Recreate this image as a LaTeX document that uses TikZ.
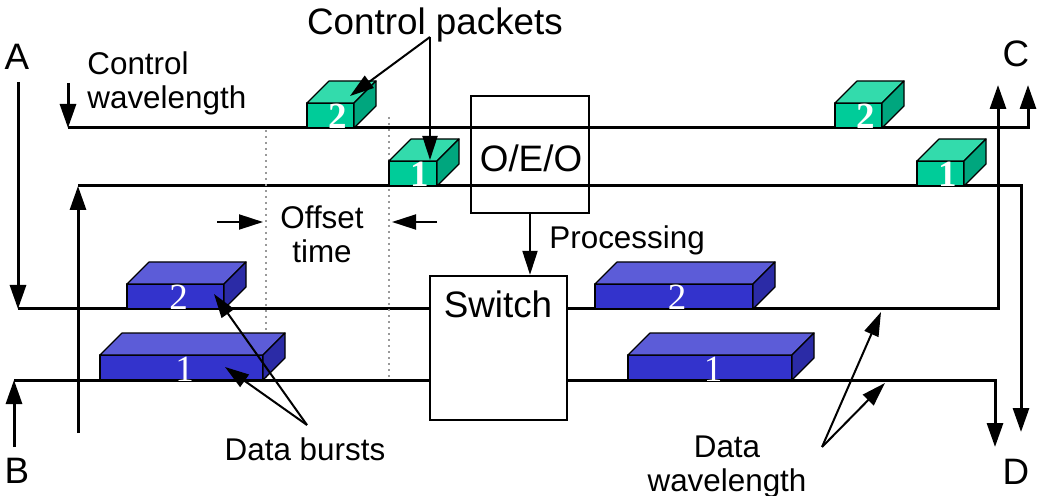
\documentclass[tikz,border=0pt]{standalone}
\usepackage{fontspec}
\setmainfont{Liberation Sans}
\newfontfamily\numfont{Liberation Serif}
\usetikzlibrary{arrows.meta}
\definecolor{grfront}{RGB}{0,204,153}
\definecolor{grtop}{RGB}{51,219,172}
\definecolor{grside}{RGB}{0,166,126}
\definecolor{blfront}{RGB}{51,51,204}
\definecolor{bltop}{RGB}{92,92,216}
\definecolor{blside}{RGB}{43,43,166}

\begin{document}
\begin{tikzpicture}[x=0.5pt, y=-0.5pt,
    big/.style={font=\fontsize{18.4}{21}\selectfont, inner sep=0pt},
    txt/.style={font=\fontsize{15.7}{17}\selectfont, inner sep=0pt, align=center},
    wave/.style={line width=1.5pt, line join=miter},
    wavearr/.style={wave, -{Triangle[length=12pt, width=8pt]}},
    arr/.style={line width=1pt, -{Triangle[length=12pt, width=7.5pt]}},
    guide/.style={draw=gray!80, line width=1pt, dotted},
    unit/.style={draw=black, line width=1.2pt},
    face/.style={draw=black, line width=0.6pt, line join=round},
    digit/.style={text=white, font=\numfont\fontsize{18.5}{18.5}\selectfont,
                  inner sep=0pt, anchor=base}
]
    \useasboundingbox (0,0) rectangle (1037,496);

    \coordinate (ain) at (18,82);
    \coordinate (a1) at (18,309);
    \coordinate (c1) at (998,309);
    \coordinate (cout) at (998,85);
    \coordinate (bin) at (14,447);
    \coordinate (b1) at (14,380);
    \coordinate (d1) at (995,380);
    \coordinate (dout) at (995,447);
    \coordinate (cwin) at (68,83);
    \coordinate (cw1) at (68,128);
    \coordinate (cw2) at (1028,128);
    \coordinate (cwout) at (1028,85);
    \coordinate (cbin) at (78,433);
    \coordinate (cb1) at (78,186);
    \coordinate (cb2) at (1021,186);
    \coordinate (cbout) at (1021,432);

    \draw[wavearr] (ain) -- (a1);
    \draw[wavearr] (a1) -- (c1) -- (cout);
    \draw[wavearr] (bin) -- (b1);
    \draw[wavearr] (b1) -- (d1) -- (dout);
    \draw[wavearr] (cwin) -- (cw1);
    \draw[wavearr] (cw1) -- (cw2) -- (cwout);
    \draw[wavearr] (cbin) -- (cb1);
    \draw[wavearr] (cb1) -- (cb2) -- (cbout);

    \draw[guide] (266,130) -- (266,380);
    \draw[guide] (389,117) -- (389,380);

    \foreach \nm/\xa/\xb/\yb/\num in {cpa/307/354/128/2, cpb/389/437/186/1,
                                      cpc/835/882/128/2, cpd/917/964/186/1} {
        \filldraw[face, fill=grfront] (\xa,\yb) rectangle (\xb,{\yb-25});
        \filldraw[face, fill=grtop] (\xa,{\yb-25}) -- ++(22,-22)
            -- ({\xb+22},{\yb-47}) -- (\xb,{\yb-25}) -- cycle;
        \filldraw[face, fill=grside] (\xb,\yb) -- (\xb,{\yb-25}) -- ++(22,-22)
            -- ++(0,25) -- cycle;
        \node[digit, font=\numfont\bfseries\fontsize{18.5}{18.5}\selectfont]
            (\nm) at ({(\xa+\xb)/2+7},{\yb+1}) {\num};
    }

    \foreach \nm/\xa/\xb/\yb/\num in {bua/127/224/309/2, bub/100/263/380/1,
                                      buc/595/753/309/2, bud/628/792/380/1} {
        \filldraw[face, fill=blfront] (\xa,\yb) rectangle (\xb,{\yb-25});
        \filldraw[face, fill=bltop] (\xa,{\yb-25}) -- ++(22,-22)
            -- ({\xb+22},{\yb-47}) -- (\xb,{\yb-25}) -- cycle;
        \filldraw[face, fill=blside] (\xb,\yb) -- (\xb,{\yb-25}) -- ++(22,-22)
            -- ++(0,25) -- cycle;
        \node[digit] (\nm) at ({(\xa+\xb)/2+3},{\yb+1}) {\num};
    }

    \node[unit, fill=white, minimum width=68.5pt, minimum height=72pt] (switch)
        at (498.5,348) {};
    \node[unit, minimum width=59pt, minimum height=58.5pt] (oeo) at (530,154.5) {};

    \node[big, anchor=base] (switchtxt) at (498,317) {Switch};
    \node[big, anchor=base] (oeotxt) at (531,172) {O/E/O};
    \node[big, anchor=base] (ctrlpk) at (435,35) {Control packets};
    \node[big] (lA) at (17,57) {A};
    \node[big] (lB) at (17,471) {B};
    \node[big] (lC) at (1016,54) {C};
    \node[big] (lD) at (1016,472) {D};

    \node[txt, align=left, anchor=north west] (ctrlwl) at (87,51)
        {Control\\wavelength};
    \node[txt, anchor=base west] (proc) at (549,249) {Processing};
    \node[txt] (offset) at (322,234) {Offset\\time};
    \node[txt, anchor=base] (databu) at (305,460) {Data bursts};
    \node[txt] (datawl) at (727,467) {Data\\wavelength};

    \draw[arr] (oeo.south) -- (oeo.south |- switch.north);

    \coordinate (cpsrc) at (430,37);
    \coordinate (cptipa) at (350,96);
    \coordinate (cptipb) at (430,160);
    \draw[arr] (cpsrc) -- (cptipa);
    \draw[arr] (cpsrc) -- (cptipb);

    \coordinate (offla) at (217,222);
    \coordinate (offlb) at (263,222);
    \coordinate (offra) at (437,222);
    \coordinate (offrb) at (392,222);
    \draw[arr] (offla) -- (offlb);
    \draw[arr] (offra) -- (offrb);

    \coordinate (dbsrc) at (307,425);
    \coordinate (dbtipa) at (214,294);
    \coordinate (dbtipb) at (225,367);
    \draw[arr] (dbsrc) -- (dbtipa);
    \draw[arr] (dbsrc) -- (dbtipb);

    \coordinate (dwsrc) at (822,447);
    \coordinate (dwtipa) at (881,312);
    \coordinate (dwtipb) at (885,383);
    \draw[arr] (dwsrc) -- (dwtipa);
    \draw[arr] (dwsrc) -- (dwtipb);

\end{tikzpicture}
\end{document}
